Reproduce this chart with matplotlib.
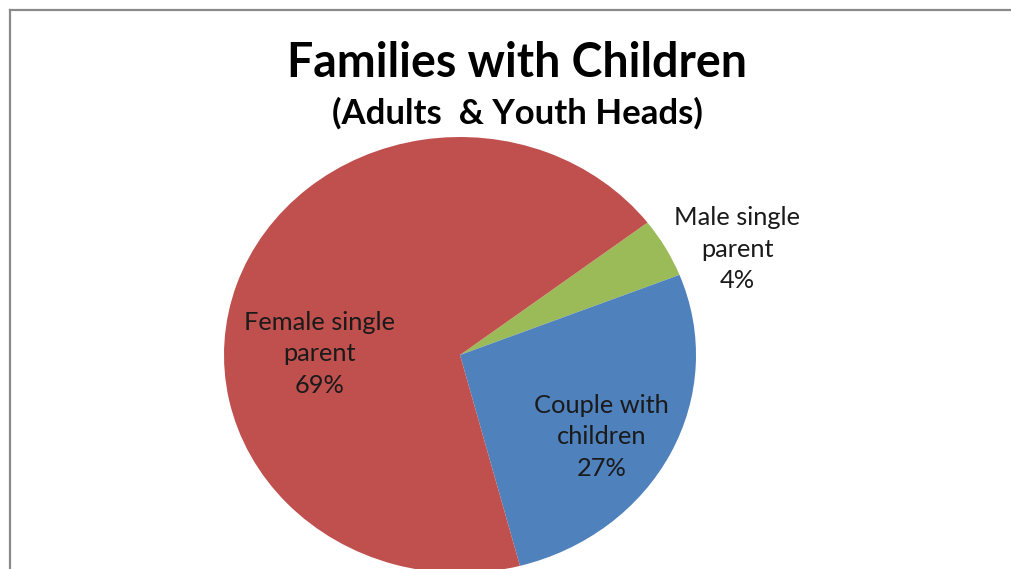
import matplotlib
matplotlib.use("Agg")
import matplotlib.pyplot as plt
from matplotlib.lines import Line2D

categories = ["Male single\nparent", "Couple with\nchildren", "Female single\nparent"]
values = [4.4, 26.9, 68.7]
colors = ["#9BBB59", "#4F81BD", "#C0504D"]
title = "Families with Children"
subtitle = "(Adults  & Youth Heads)"

plt.rcParams['font.family'] = ['Lato', 'DejaVu Sans']

W, H = 1011, 569
fig = plt.figure(figsize=(W / 100, H / 100), dpi=100)
fig.patch.set_facecolor("white")

# frame (left and top edges visible)
fig.add_artist(Line2D([9.5 / W, 9.5 / W], [0, 1 - 9.5 / H], transform=fig.transFigure,
                      color="#8a8a8a", lw=1.6))
fig.add_artist(Line2D([9.5 / W, 1.01], [1 - 9.5 / H, 1 - 9.5 / H], transform=fig.transFigure,
                      color="#8a8a8a", lw=1.6))

# pie axes: data [-1,1] maps to pixel box x 224..696, y 137..573
x0, x1, y0, y1 = 224, 696, 137, 573
ax = fig.add_axes([x0 / W, (H - y1) / H, (x1 - x0) / W, (y1 - y0) / H])
wedges, _ = ax.pie(values, colors=colors, startangle=37.4, counterclock=False,
                   radius=1.0, wedgeprops=dict(linewidth=0))
ax.set_aspect("auto")
ax.set_xlim(-1, 1)
ax.set_ylim(-1, 1)
ax.axis("off")
for w in wedges:
    w.set_clip_on(False)

label_pos = [(1.174, 0.486), (0.60, -0.376), (-0.597, 0.005)]
for cat, v, (lx, ly) in zip(categories, values, label_pos):
    ax.text(lx, ly, f"{cat}\n{round(v)}%", ha="center", va="center",
            fontsize=18.3, color="#1a1a1a", linespacing=1.46, clip_on=False)

fig.text(517 / W, 1 - 63 / H, title, ha="center", va="center",
         fontsize=33.5, fontweight="bold", color="black")
fig.text(517 / W, 1 - 113 / H, subtitle, ha="center", va="center",
         fontsize=25, fontweight="bold", color="black")

fig.savefig("out.png", dpi=100, facecolor="white")
